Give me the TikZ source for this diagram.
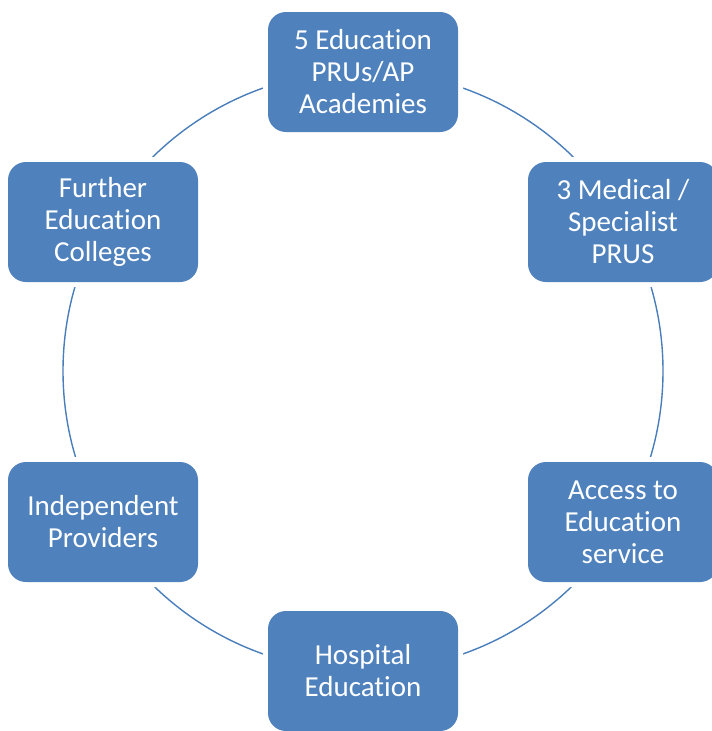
\documentclass[tikz,border=0pt]{standalone}
\usepackage{fontspec}
\setmainfont{Carlito}[Ligatures=NoCommon]
\definecolor{boxblue}{HTML}{4F81BD}
\definecolor{ringblue}{HTML}{4A7EBB}
\begin{document}
\begin{tikzpicture}[x=1pt,y=-1pt,
  unit/.style={rectangle, rounded corners=18pt, fill=boxblue,
    minimum width=190pt, minimum height=120pt, inner sep=0pt,
    text=white, align=center,
    font=\fontsize{29}{32}\selectfont,
    preaction={draw=white, line width=10pt}},
  ring/.style={draw=ringblue, line width=1.4pt}]
  \useasboundingbox (0,0) rectangle (712,731);
  \begin{scope}
    \clip (0,0) rectangle (712,731);
    % the cycle behind the units
    \coordinate (hub) at (363,371);
    \draw[ring] (hub) circle[radius=300pt];
    % the six units, clockwise from the top
    \node[unit] (pru)  at (363,72)  {5 Education\\PRUs/AP\\Academies};
    \node[unit] (med)  at (623,222) {3 Medical /\\Specialist\\PRUS};
    \node[unit] (acc)  at (623,522) {Access to\\Education\\service};
    \node[unit] (hosp) at (363,671) {Hospital\\Education};
    \node[unit] (ind)  at (103,522) {Independent\\Providers};
    \node[unit] (fe)   at (103,222) {Further\\Education\\Colleges};
  \end{scope}
\end{tikzpicture}
\end{document}
